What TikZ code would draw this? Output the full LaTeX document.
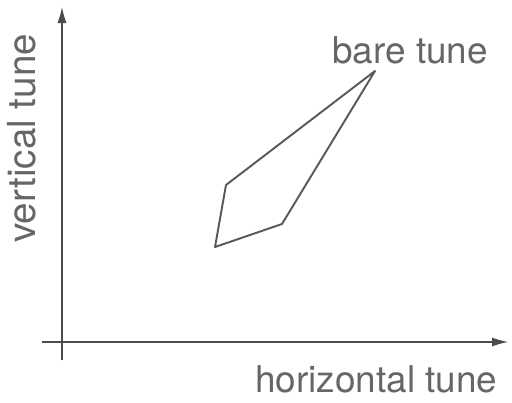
\documentclass[tikz,border=0pt]{standalone}
\usepackage{fontspec}
\setmainfont{TeX Gyre Heros}
\usetikzlibrary{arrows.meta,positioning}

\begin{document}
\begin{tikzpicture}[
    x=0.02cm, y=-0.02cm,
    axis/.style={draw=black!70, line width=0.6pt, -{Latex[length=0.32cm, width=0.18cm]}},
    tune/.style={draw=black!65, line width=1.1pt, line join=round},
    lbl/.style={inner sep=0pt, text=black!60, font=\fontsize{21}{25}\selectfont}
]
\useasboundingbox (0,0) rectangle (512,403);
% axes
\coordinate (xstart) at (42,342);
\coordinate (xend) at (508,342);
\coordinate (ystart) at (62,360);
\coordinate (yend) at (62,7);
\draw[axis] (xstart) -- (xend);
\draw[axis] (ystart) -- (yend);
% tune footprint
\coordinate (bare) at (375,71);
\coordinate (p1) at (226,185);
\coordinate (p2) at (215,247);
\coordinate (p3) at (282,224);
\draw[tune] (bare) -- (p1) -- (p2) -- (p3) -- cycle;
% labels
\node[lbl, anchor=base west] (bt) at (332,63) {bare tune};
\node[lbl, anchor=base west] (ht) at (255,392) {horizontal tune};
\node[lbl, anchor=base west, rotate=90, font=\fontsize{22}{26}\selectfont] (vt) at (35,243) {vertical tune};
\end{tikzpicture}
\end{document}
